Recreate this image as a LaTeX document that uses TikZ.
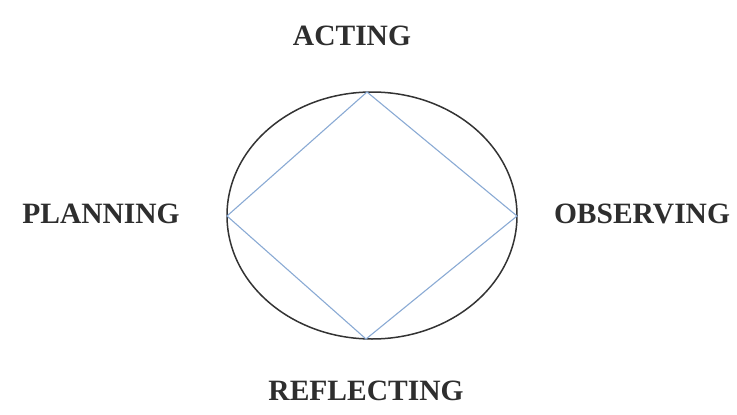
\documentclass[tikz,border=0pt]{standalone}
\usepackage{fontspec}
\setmainfont{Liberation Serif}
\usetikzlibrary{shapes.geometric}
\definecolor{txtgray}{HTML}{2E2E2E}
\definecolor{diamondblue}{HTML}{8AAAD4}
\tikzset{
  lbl/.style={font=\fontsize{29.5}{31}\selectfont\bfseries, text=txtgray, inner sep=0pt, anchor=center},
  ring/.style={draw=black!80, line width=1.5pt, ellipse, inner sep=0pt},
  rhomb/.style={draw=diamondblue, line width=1.1pt, line join=miter}
}
\begin{document}
\begin{tikzpicture}[x=1pt,y=-1pt]
\useasboundingbox (0,0) rectangle (737,415);
\node[ring, minimum width=290pt, minimum height=247pt] (circ) at (372,215.5) {};
\coordinate (top) at (367,92);
\coordinate (rgt) at (517,216);
\coordinate (bot) at (366,339);
\coordinate (lft) at (227,216);
\draw[rhomb] (top) -- (rgt) -- (bot) -- (lft) -- cycle;
\node[lbl] (acting) at (352,36) {ACTING};
\node[lbl] (planning) at (101,214) {PLANNING};
\node[lbl] (observing) at (642,214) {OBSERVING};
\node[lbl] (reflecting) at (366,391) {REFLECTING};
\end{tikzpicture}
\end{document}
